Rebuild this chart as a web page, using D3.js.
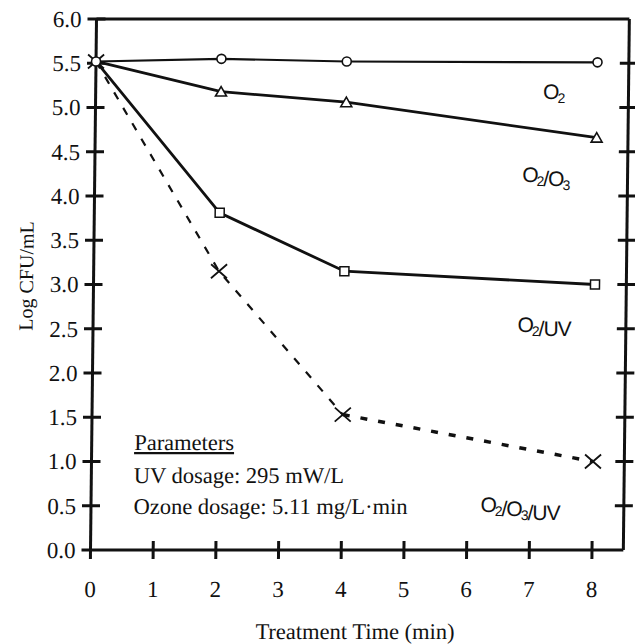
<!DOCTYPE html>
<html>
<head>
<meta charset="utf-8">
<script src="https://cdnjs.cloudflare.com/ajax/libs/d3/7.8.5/d3.min.js"></script>
<style>
  html, body { margin: 0; padding: 0; background: #fff; }
  svg { display: block; }
</style>
</head>
<body>
<div id="chart"></div>
<script>
// values
const times = [0, 2, 4, 8]
const o2 = [5.52, 5.55, 5.52, 5.51]
const o2o3 = [5.52, 5.18, 5.06, 4.66]
const o2uv = [5.52, 3.81, 3.15, 3.0]
const o2o3uv = [5.52, 3.15, 1.53, 1.0]
const xTicks = [0, 1, 2, 3, 4, 5, 6, 7, 8]
const yTicks = [0, 0.5, 1, 1.5, 2, 2.5, 3, 3.5, 4, 4.5, 5, 5.5, 6]

const width = 635
const height = 644
const serif = '"Liberation Serif", "Times New Roman", serif'
const sans = '"Liberation Sans", Arial, sans-serif'
const ink = '#111'

const x = d3.scaleLinear().domain([0, 8]).range([90.5, 592])
const y = d3.scaleLinear().domain([0, 6]).range([550, 19])
const xEnd = x(8.5)

const svg = d3.select('#chart').append('svg')
  .attr('width', width)
  .attr('height', height)

// the scan leans a little: top edge sits ~6px right of the bottom edge
const k = 6 / 531
const g = svg.append('g')
  .attr('transform', `translate(${k * 550},0) skewX(${-Math.atan(k) * 180 / Math.PI})`)

// frame
const frame = g.append('g').attr('stroke', ink).attr('stroke-width', 3).attr('fill', 'none')
frame.append('line').attr('x1', x(0)).attr('x2', x(0)).attr('y1', y(6)).attr('y2', y(0) + 9)
frame.append('line').attr('x1', x(0) - 9).attr('x2', xEnd).attr('y1', y(0)).attr('y2', y(0))
frame.append('line').attr('x1', x(0)).attr('x2', xEnd).attr('y1', y(6)).attr('y2', y(6))
frame.append('line').attr('x1', xEnd).attr('x2', xEnd).attr('y1', y(6)).attr('y2', y(0))

// y ticks on both sides, crossing the lines
frame.selectAll('.yl').data(yTicks.filter(d => d > 0)).enter().append('line')
  .attr('x1', x(0) - 9).attr('x2', x(0) + 9)
  .attr('y1', d => y(d)).attr('y2', d => y(d))
frame.selectAll('.yr').data(yTicks.filter(d => d > 0 && d < 6)).enter().append('line')
  .attr('x1', xEnd - 9).attr('x2', xEnd + 9)
  .attr('y1', d => y(d)).attr('y2', d => y(d))
frame.selectAll('.xt').data(xTicks.filter(d => d > 0)).enter().append('line')
  .attr('x1', d => x(d)).attr('x2', d => x(d))
  .attr('y1', y(0) - 9).attr('y2', y(0) + 9)

// tick labels
g.selectAll('.ylab').data(yTicks).enter().append('text')
  .attr('x', x(0) - 15).attr('y', d => y(d) + 8)
  .attr('text-anchor', 'end')
  .style('font-family', serif).style('font-size', '23px').attr('fill', ink)
  .text(d => d.toFixed(1))
g.selectAll('.xlab').data(xTicks).enter().append('text')
  .attr('x', d => x(d)).attr('y', 597)
  .attr('text-anchor', 'middle')
  .style('font-family', serif).style('font-size', '23px').attr('fill', ink)
  .text(d => d)

// axis titles
g.append('text')
  .attr('x', 356).attr('y', 639)
  .attr('text-anchor', 'middle')
  .style('font-family', serif).style('font-size', '22.5px').attr('fill', ink)
  .text('Treatment Time (min)')
g.append('text')
  .attr('transform', 'translate(30,276) rotate(-90)')
  .attr('text-anchor', 'middle')
  .style('font-family', serif).style('font-size', '20px').attr('fill', ink)
  .text('Log CFU/mL')

// lines
const line = d3.line().x(d => x(d[0])).y(d => y(d[1]))
const pts = vals => times.map((t, i) => [t, vals[i]])

g.append('path').datum(pts(o2o3uv).slice(0, 3)).attr('d', line)
  .attr('fill', 'none').attr('stroke', ink).attr('stroke-width', 2.2)
  .attr('stroke-dasharray', '8,10')
g.append('path').datum(pts(o2o3uv).slice(2)).attr('d', line)
  .attr('fill', 'none').attr('stroke', ink).attr('stroke-width', 3.5)
  .attr('stroke-dasharray', '7,11')
;[[o2uv, 2.8], [o2o3, 2.8], [o2, 2.2]].forEach(([vals, w]) => {
  g.append('path').datum(pts(vals)).attr('d', line)
    .attr('fill', 'none').attr('stroke', ink).attr('stroke-width', w)
})

// markers
g.selectAll('.cross').data(pts(o2o3uv)).enter().append('path')
  .attr('transform', d => `translate(${x(d[0])},${y(d[1])})`)
  .attr('d', 'M-8,-7L8,7M-8,7L8,-7')
  .attr('stroke', ink).attr('stroke-width', 1.8).attr('fill', 'none')
g.selectAll('.sq').data(pts(o2uv).slice(1)).enter().append('rect')
  .attr('x', d => x(d[0]) - 4.5).attr('y', d => y(d[1]) - 4.5)
  .attr('width', 9).attr('height', 9)
  .attr('fill', '#fff').attr('stroke', ink).attr('stroke-width', 1.5)
g.selectAll('.tri').data(pts(o2o3).slice(1)).enter().append('path')
  .attr('transform', d => `translate(${x(d[0])},${y(d[1])})`)
  .attr('d', 'M0,-5L5.5,4.5L-5.5,4.5Z')
  .attr('fill', '#fff').attr('stroke', ink).attr('stroke-width', 1.6)
g.selectAll('.circ').data(pts(o2)).enter().append('circle')
  .attr('cx', d => x(d[0])).attr('cy', d => y(d[1])).attr('r', 4.5)
  .attr('fill', '#fff').attr('stroke', ink).attr('stroke-width', 1.6)

// series labels: [text, subscript] pieces
const seriesLabels = [
  { x: 538, y: 99, parts: [['O', '2']] },
  { x: 518, y: 182, parts: [['O', '2'], ['/O', '3']] },
  { x: 515, y: 332, parts: [['O', '2'], ['/UV', '']] },
  { x: 480, y: 512, parts: [['O', '2'], ['/O', '3'], ['/UV', '']] }
]
seriesLabels.forEach(lab => {
  const t = g.append('text')
    .attr('x', lab.x).attr('y', lab.y)
    .style('font-family', sans).style('font-size', '21px')
    .style('letter-spacing', '-1px').attr('fill', ink)
  lab.parts.forEach(p => {
    t.append('tspan').text(p[0])
    if (p[1]) {
      t.append('tspan').attr('dy', 4).attr('dx', -1).style('font-size', '14px').text(p[1])
      t.append('tspan').attr('dy', -4).text('')
    }
  })
})

// parameters note
const note = g.append('g')
  .style('font-family', serif).style('font-size', '22.5px').attr('fill', ink)
note.append('text').attr('x', 133).attr('y', 450).text('Parameters')
  .style('text-decoration', 'underline')
note.append('text').attr('x', 133).attr('y', 483).text('UV dosage: 295 mW/L')
note.append('text').attr('x', 133).attr('y', 514).text('Ozone dosage: 5.11 mg/L·min')
</script>
</body>
</html>
